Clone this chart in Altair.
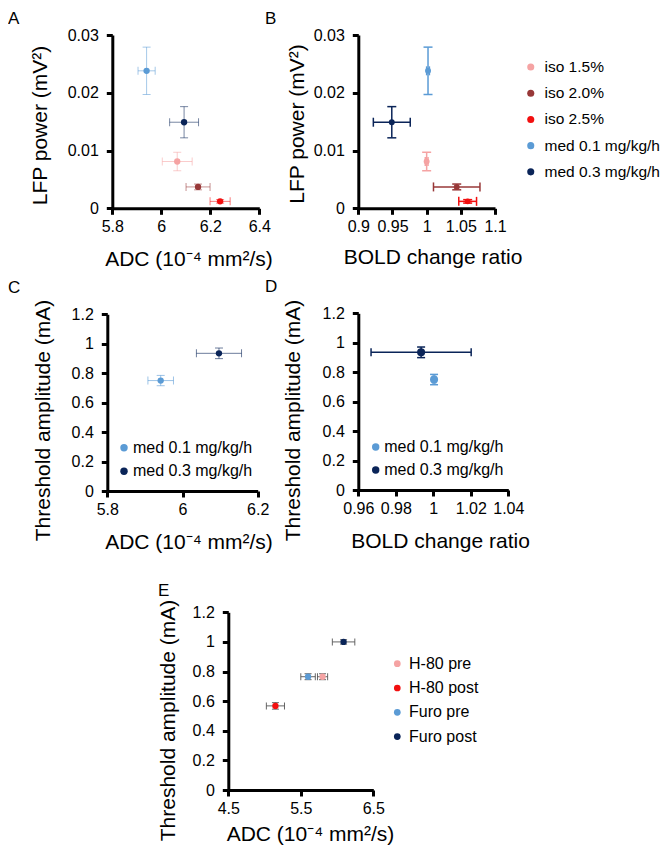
import altair as alt
import pandas as pd

FONT = "Liberation Sans"
W, H = 654, 837

# ---------------- data ----------------
# Panels A & B
ab_groups = ["iso 1.5%", "iso 2.0%", "iso 2.5%", "med 0.1 mg/kg/h", "med 0.3 mg/kg/h"]
ab_colors = ["#F5A3A3", "#983838", "#F20F0F", "#5B9BD5", "#0A2458"]
ab_adc = [6.065, 6.150, 6.240, 5.940, 6.093]
ab_adc_err = [0.061, 0.049, 0.041, 0.035, 0.059]
ab_bold = [1.000, 1.044, 1.060, 1.002, 0.949]
ab_bold_err = [0.002, 0.034, 0.013, 0.002, 0.027]
ab_lfp = [0.0081, 0.0037, 0.0012, 0.0238, 0.0149]
ab_lfp_err = [0.0016, 0.0005, 0.0003, 0.0041, 0.0027]

# Panels C & D
cd_groups = ["med 0.1 mg/kg/h", "med 0.3 mg/kg/h"]
cd_colors = ["#5B9BD5", "#0A2458"]
cd_adc = [5.942, 6.097]
cd_adc_err = [0.034, 0.060]
cd_bold = [1.0004, 0.9935]
cd_bold_err = [0.0008, 0.0267]
cd_thr = [0.750, 0.935]
cd_thr_err = [0.035, 0.036]

# Panel E
e_groups = ["H-80 pre", "H-80 post", "Furo pre", "Furo post"]
e_colors = ["#F5A3A3", "#F20F0F", "#5B9BD5", "#0A2458"]
e_adc = [5.80, 5.15, 5.60, 6.09]
e_adc_err = [0.07, 0.125, 0.10, 0.155]
e_thr = [0.765, 0.568, 0.765, 1.000]
e_thr_err = [0.020, 0.022, 0.020, 0.015]

adc_ticks_ab = [5.8, 6.0, 6.2, 6.4]
bold_ticks_ab = [0.9, 0.95, 1.0, 1.05, 1.1]
lfp_ticks = [0, 0.01, 0.02, 0.03]
adc_ticks_c = [5.8, 6.0, 6.2]
bold_ticks_d = [0.96, 0.98, 1.0, 1.02, 1.04]
thr_ticks = [0, 0.2, 0.4, 0.6, 0.8, 1.0, 1.2]
adc_ticks_e = [4.5, 5.5, 6.5]

ADC_T = "ADC (10\u207b\u2074 mm\u00b2/s)"
LFP_T = "LFP power (mV\u00b2)"
BOLD_T = "BOLD change ratio"
THR_T = "Threshold amplitude (mA)"


def panel(groups, colors, xv, xe, yv, ye, xdom, xrng, xticks, xtitle, xt_pos,
          ydom, yrng, yticks, ytitle, yt_pos, pt_size, bar_w, bar_op, cap,
          bar_color=None, legend=None):
    """Returns a flat list of layers (each with identical explicit scales)."""
    df = pd.DataFrame({"g": groups, "x": xv, "y": yv})
    df["xlo"] = [a - b for a, b in zip(xv, xe)]
    df["xhi"] = [a + b for a, b in zip(xv, xe)]
    df["ylo"] = [a - b for a, b in zip(yv, ye)]
    df["yhi"] = [a + b for a, b in zip(yv, ye)]
    xcaps = pd.DataFrame({"g": list(groups) * 2,
                          "x": list(df["xlo"]) + list(df["xhi"]),
                          "y": list(yv) * 2})
    ycaps = pd.DataFrame({"g": list(groups) * 2,
                          "x": list(xv) * 2,
                          "y": list(df["ylo"]) + list(df["yhi"])})

    def xs():
        return alt.Scale(domain=xdom, range=xrng, nice=False, zero=False)

    def ys():
        return alt.Scale(domain=ydom, range=yrng, nice=False, zero=False)

    def cs():
        return alt.Scale(domain=groups, range=colors)

    def bcol():
        if bar_color is not None:
            return alt.value(bar_color)
        return alt.Color("g:N", scale=cs(), legend=None)

    xaxis = alt.Axis(orient="bottom", offset=yrng[0] - H, values=xticks, format="~g",
                     title=xtitle, titleX=xt_pos[0], titleY=xt_pos[1],
                     titleBaseline="alphabetic", labelPadding=4)
    yaxis = alt.Axis(orient="left", offset=-xrng[0], values=yticks, format="~g",
                     title=ytitle, titleX=yt_pos[0], titleY=yt_pos[1], labelPadding=8)

    xr = alt.Chart(df).mark_rule(strokeWidth=bar_w, opacity=bar_op).encode(
        x=alt.X("xlo:Q", scale=xs(), axis=None), x2="xhi:Q",
        y=alt.Y("y:Q", scale=ys(), axis=None), color=bcol())
    yr = alt.Chart(df).mark_rule(strokeWidth=bar_w, opacity=bar_op).encode(
        x=alt.X("x:Q", scale=xs(), axis=None),
        y=alt.Y("ylo:Q", scale=ys(), axis=None), y2="yhi:Q", color=bcol())
    xc = alt.Chart(xcaps).mark_tick(orient="vertical", thickness=bar_w, opacity=bar_op).encode(
        x=alt.X("x:Q", scale=xs(), axis=None), y=alt.Y("y:Q", scale=ys(), axis=None),
        size=alt.value(cap), color=bcol())
    yc = alt.Chart(ycaps).mark_tick(orient="horizontal", thickness=bar_w, opacity=bar_op).encode(
        x=alt.X("x:Q", scale=xs(), axis=None), y=alt.Y("y:Q", scale=ys(), axis=None),
        size=alt.value(cap), color=bcol())
    pts = alt.Chart(df).mark_circle(size=pt_size, opacity=1).encode(
        x=alt.X("x:Q", scale=xs(), axis=xaxis),
        y=alt.Y("y:Q", scale=ys(), axis=yaxis),
        color=alt.Color("g:N", scale=cs(), legend=legend))
    return [xr, yr, xc, yc, pts]


def leg(x, y, size, font, rowpad, offset):
    return alt.Legend(orient="none", legendX=x, legendY=y, title=None, symbolType="circle",
                      symbolSize=size, symbolStrokeWidth=0, labelFontSize=font,
                      rowPadding=rowpad, labelOffset=offset, padding=0)


pA = panel(ab_groups, ab_colors, ab_adc, ab_adc_err, ab_lfp, ab_lfp_err,
           [5.8, 6.4], [104.3, 251.3], adc_ticks_ab, ADC_T, (180.5, 57),
           [0, 0.03], [200.3, 27], lfp_ticks, LFP_T, (-62, 117),
           pt_size=40, bar_w=1, bar_op=0.55, cap=8)
pB = panel(ab_groups, ab_colors, ab_bold, ab_bold_err, ab_lfp, ab_lfp_err,
           [0.9, 1.1], [350.3, 487], bold_ticks_ab, BOLD_T, (424.5, 55),
           [0, 0.03], [200.3, 27], lfp_ticks, LFP_T, (-51, 115.5),
           pt_size=35, bar_w=1.5, bar_op=1, cap=9,
           legend=leg(515, 51.3, 50, 15.5, 9.2, 6))
pC = panel(cd_groups, cd_colors, cd_adc, cd_adc_err, cd_thr, cd_thr_err,
           [5.8, 6.2], [99.3, 249.7], adc_ticks_c, ADC_T, (180.5, 57),
           [0, 1.2], [483, 306.3], thr_ticks, THR_T, (-54, 412),
           pt_size=40, bar_w=1, bar_op=0.6, cap=8,
           legend=leg(108, 431.8, 55, 16, 7.4, 1))
pD = panel(cd_groups, cd_colors, cd_bold, cd_bold_err, cd_thr, cd_thr_err,
           [0.96, 1.04], [350.3, 500.3], bold_ticks_d, BOLD_T, (432, 57),
           [0, 1.2], [482, 305.3], thr_ticks, THR_T, (-55, 412),
           pt_size=65, bar_w=1.5, bar_op=1, cap=8,
           legend=leg(359.7, 431, 55, 16, 7, 0.5))
pE = panel(e_groups, e_colors, e_adc, e_adc_err, e_thr, e_thr_err,
           [4.5, 6.5], [220.3, 365.3], adc_ticks_e, ADC_T, (302, 50),
           [0, 1.2], [782, 604.3], thr_ticks, THR_T, (-50, 712),
           pt_size=40, bar_w=1, bar_op=0.9, cap=7, bar_color="#555555",
           legend=leg(381.3, 647.7, 45, 16, 8.3, 3.7))

letters = ["A", "B", "C", "D", "E"]
letter_pos = [(0, 16), (257, 16), (0, 285), (257, 284), (150, 588)]
letter_layers = []
for L, (px, py) in zip(letters, letter_pos):
    letter_layers.append(
        alt.Chart(pd.DataFrame({"t": [L]})).mark_text(
            fontSize=17, align="left", baseline="alphabetic", font=FONT, color="#000"
        ).encode(text="t:N", x=alt.value(px), y=alt.value(py))
    )

chart = alt.layer(*(pA + pB + pC + pD + pE + letter_layers)).resolve_scale(
    x="independent", y="independent", color="independent"
).resolve_axis(x="independent", y="independent").resolve_legend(
    color="independent"
).properties(
    width=W, height=H, autosize=alt.AutoSizeParams(type="none"), padding=0
).configure(font=FONT).configure_view(stroke=None).configure_axis(
    grid=False, domainColor="#000", domainWidth=3, tickColor="#000", tickWidth=3,
    tickSize=6, labelFontSize=16, labelColor="#000", labelFont=FONT,
    titleFontSize=21, titleFontWeight="normal", titleColor="#000", titleFont=FONT,
    labelFlush=False, labelOverlap=False
).configure_legend(labelFont=FONT, labelColor="#000")

chart.save("out.html", embed_options={"renderer": "svg", "actions": False})
